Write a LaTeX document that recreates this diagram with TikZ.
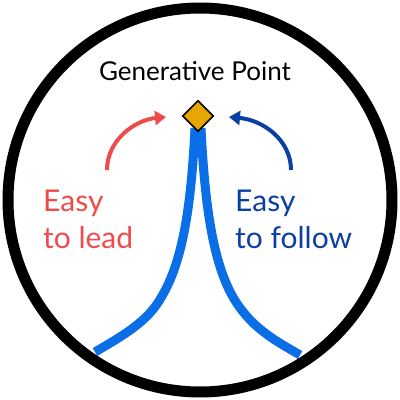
\documentclass[tikz,border=0pt]{standalone}
\usepackage{fontspec}
\setmainfont{Lato}
\usetikzlibrary{arrows.meta,shapes.geometric}
\definecolor{ringblk}{HTML}{000000}
\definecolor{curveblue}{HTML}{0A6FE6}
\definecolor{leadred}{HTML}{F04B4B}
\definecolor{followblue}{HTML}{0B3FA3}
\definecolor{gold}{HTML}{E8A600}
\tikzset{
  curve/.style={draw=curveblue,line width=9pt},
  arr/.style={line width=4pt,-{Triangle[length=11pt,width=14pt]}},
  lbl/.style={font=\fontsize{30}{37}\selectfont,align=left,anchor=north west,inner sep=0pt}
}
\begin{document}
\begin{tikzpicture}[x=1pt,y=-1pt]
\useasboundingbox (0,0) rectangle (400,400);
\fill[white] (0,0) rectangle (400,400);
\node[circle,draw=ringblk,line width=11pt,minimum size=384pt,inner sep=0pt] (ring) at (200,200) {};
\coordinate (lb) at (95,352);
\coordinate (rb) at (300,355);
\path[curve] (195,128) .. controls (191,210) and (182,262) .. (162,296) .. controls (148,322) and (122,336) .. (lb);
\path[curve] (201,128) .. controls (205,210) and (214,268) .. (236,302) .. controls (254,330) and (278,342) .. (rb);
\node[diamond,draw=black,fill=gold,line width=1.6pt,minimum width=31pt,minimum height=31pt,inner sep=0pt] (gp) at (198,116) {};
\node[font=\fontsize{26}{30}\selectfont,anchor=base,inner sep=0pt] (title) at (195,80) {Generative Point};
\coordinate (rs) at (107,170);
\coordinate (bs) at (291,170);
\draw[arr,leadred] (rs) .. controls (107,140) and (135,120) .. (166,117);
\draw[arr,followblue] (bs) .. controls (291,140) and (263,120) .. (229,117);
\node[lbl,text=leadred] (lead) at (43,190) {Easy\\to lead};
\node[lbl,text=followblue] (follow) at (235,190) {Easy\\to follow};
\end{tikzpicture}
\end{document}
